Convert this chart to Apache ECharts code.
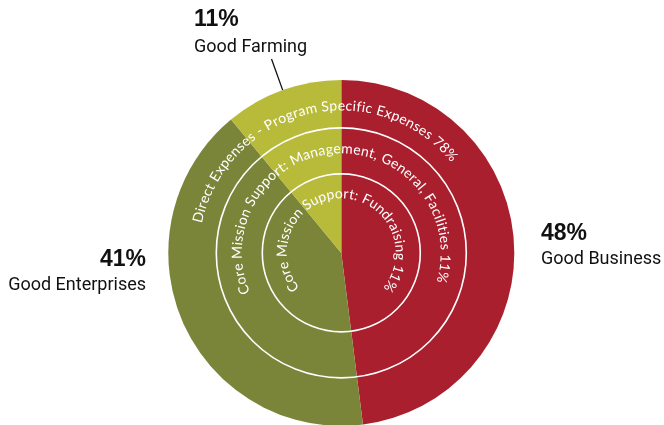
<!DOCTYPE html>
<html><head><meta charset="utf-8">
<script src="https://cdn.jsdelivr.net/npm/echarts@6/dist/echarts.min.js"></script>
<style>html,body{margin:0;padding:0;background:#fff}#c{width:664px;height:425px}</style>
</head><body><div id="c"></div>
<script>
// ---- data ----
const categories = ['Good Business', 'Good Enterprises', 'Good Farming'];
const values = [48, 41, 11];
const ringTexts = [
  'Direct Expenses - Program Specific Expenses 78%',
  'Core Mission Support: Management, General, Facilities 11%',
  'Core Mission Support: Fundraising 11%'
];

// ---- styling / layout ----
const sliceColors = ['#AA1F2E', '#7A8539', '#B8BA3A'];
const pieCenter = ['51.4%', '59.5%'];
const pieRadius = 173;
const ringCircleRadii = [125, 79];
const ringTextLayout = [
  { r: 147, a0: -76, a1: 48.4 },
  { r: 104, a0: -110.7, a1: 103.5 },
  { r: 59, a0: -125.2, a1: 124.5 }
];
const labelPos = [
  { x: 541, y: 221, align: 'left' },
  { x: 146, y: 247, align: 'right' },
  { x: 194, y: 7, align: 'left' }
];
const nameLineHeights = [27, 27, 31];
const ringFont = '14px Lato';

const chart = echarts.init(document.getElementById('c'), null, { renderer: 'canvas' });
const W = chart.getWidth(), H = chart.getHeight();
const cx = parseFloat(pieCenter[0]) / 100 * W;
const cy = parseFloat(pieCenter[1]) / 100 * H;

const ctx = document.createElement('canvas').getContext('2d');
ctx.font = ringFont;

const graphics = [];
ringCircleRadii.forEach(r => {
  graphics.push({
    type: 'circle', silent: true, z: 100,
    shape: { cx: cx, cy: cy, r: r },
    style: { fill: 'none', stroke: '#fff', lineWidth: 1.6 }
  });
});
ringTexts.forEach((txt, k) => {
  const L = ringTextLayout[k];
  const chars = Array.from(txt);
  const w = chars.map(c => ctx.measureText(c).width);
  const Wt = w.reduce((a, b) => a + b, 0);
  const n = chars.length;
  const arc = (L.a1 - L.a0) * Math.PI / 180 * L.r;
  const s = (arc - (Wt - w[0] / 2 - w[n - 1] / 2)) / (n - 1);
  let pos = 0;
  chars.forEach((c, i) => {
    const center = pos + w[i] / 2 + i * s - w[0] / 2;
    pos += w[i];
    const th = L.a0 * Math.PI / 180 + center / L.r;
    graphics.push({
      type: 'text', silent: true, z: 101,
      x: cx + L.r * Math.sin(th),
      y: cy - L.r * Math.cos(th),
      rotation: -th,
      style: { text: c, fill: '#fff', font: ringFont, align: 'center', verticalAlign: 'middle' }
    });
  });
});

const pctStyle = { fontFamily: '"Liberation Sans", Arial, sans-serif', fontWeight: 'bold', fontSize: 23, lineHeight: 25, color: '#111' };
const nameStyle = { fontFamily: 'Roboto, sans-serif', fontSize: 18, color: '#111' };

const option = {
  animation: false,
  backgroundColor: '#fff',
  series: [{
    type: 'pie',
    center: pieCenter,
    radius: pieRadius,
    startAngle: 90,
    clockwise: true,
    avoidLabelOverlap: false,
    itemStyle: { borderWidth: 0 },
    emphasis: { disabled: true },
    label: {
      show: true,
      position: 'outside',
      formatter: '{p|{c}%}\n{n|{b}}'
    },
    labelLine: { show: false },
    labelLayout: function (params) {
      const i = params.dataIndex;
      const p = labelPos[i];
      const out = { x: p.x, y: p.y, align: p.align, verticalAlign: 'top' };
      if (i === 2 && params.labelLinePoints) {
        const p0 = params.labelLinePoints[0], p1 = params.labelLinePoints[1];
        const dx = p1[0] - p0[0], dy = p1[1] - p0[1];
        const l = Math.hypot(dx, dy) || 1;
        const e = [p0[0] + dx / l * 33, p0[1] + dy / l * 33];
        out.labelLinePoints = [p0, e, e];
      }
      return out;
    },
    data: categories.map((name, i) => ({
      name: name,
      value: values[i],
      itemStyle: { color: sliceColors[i] },
      label: {
        rich: {
          p: pctStyle,
          n: Object.assign({ lineHeight: nameLineHeights[i] }, nameStyle)
        }
      },
      labelLine: { show: i === 2, length: 33, length2: 0, lineStyle: { color: '#111', width: 1.3 } }
    }))
  }],
  graphic: graphics
};
chart.setOption(option);
</script></body></html>
